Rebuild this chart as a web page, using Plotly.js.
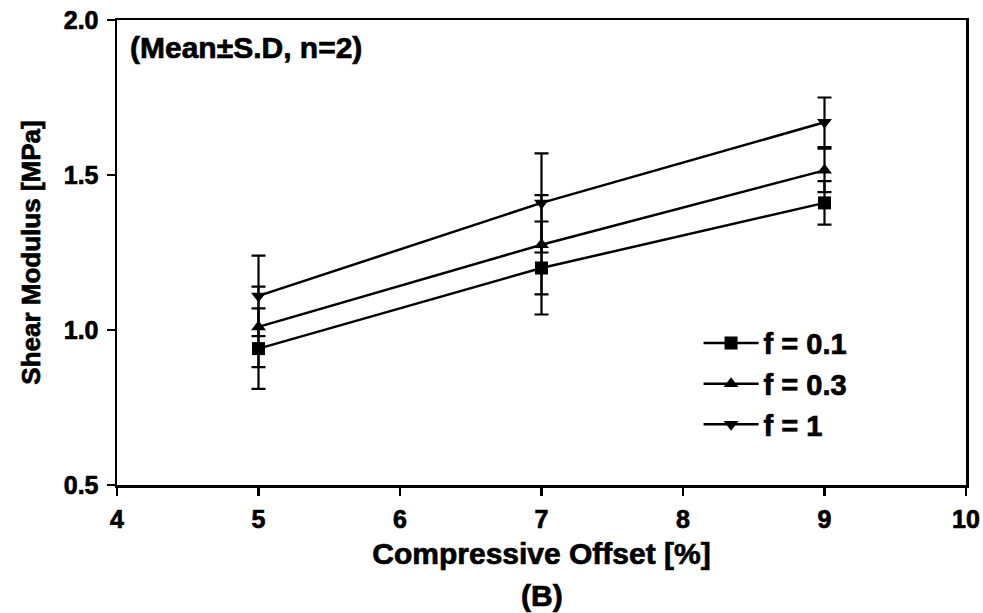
<!DOCTYPE html>
<html>
<head>
<meta charset="utf-8">
<script src="https://cdn.plot.ly/plotly-3.0.1.min.js"></script>
<style>
  html, body { margin: 0; padding: 0; background: #fff; }
  #chart { width: 983px; height: 613px; }
  /* heavier lettering for all chart text */
  #chart svg text { stroke: #000; stroke-width: 0.7px; }
  #chart .xtick text, #chart .ytick text { font-weight: bold !important; }
</style>
</head>
<body>
<div id="chart"></div>
<script>
// Compressive offset [%]
const offsets = [5, 7, 9];

// Shear modulus [MPa], mean and standard deviation per frequency
const modulusF01 = [0.94, 1.20, 1.41];
const sdF01      = [0.13, 0.15, 0.07];
const modulusF03 = [1.01, 1.275, 1.515];
const sdF03      = [0.13, 0.16, 0.07];
const modulusF1  = [1.11, 1.41, 1.67];
const sdF1       = [0.13, 0.16, 0.08];

const seriesNames = ['f = 0.1', 'f = 0.3', 'f = 1'];
const xTicks = [4, 5, 6, 7, 8, 9, 10];
const yTicks = [0.5, 1.0, 1.5, 2.0];

const FONT = 'Liberation Sans, Arial, sans-serif';

function series(name, y, sd, symbol) {
  return {
    type: 'scatter',
    mode: 'lines+markers',
    name: name,
    x: offsets,
    y: y,
    line: { color: '#000', width: 2.5 },
    marker: { symbol: symbol, size: 13, color: '#000', line: { width: 0 } },
    error_y: { type: 'data', array: sd, visible: true, color: '#000', thickness: 2.2, width: 7 }
  };
}

const data = [
  series(seriesNames[0], modulusF01, sdF01, 'square'),
  series(seriesNames[1], modulusF03, sdF03, 'triangle-up'),
  series(seriesNames[2], modulusF1, sdF1, 'triangle-down')
];

const axisCommon = {
  showgrid: false,
  zeroline: false,
  showline: true,
  linecolor: '#000',
  linewidth: 2.5,
  mirror: true,
  ticks: 'outside',
  tickcolor: '#000',
  tickwidth: 2.5,
  ticklen: 8,
  tickfont: { family: FONT, size: 25, weight: 'bold', color: '#000' }
};

const layout = {
  width: 983,
  height: 613,
  paper_bgcolor: '#fff',
  plot_bgcolor: '#fff',
  margin: { l: 117, r: 17, t: 20, b: 128 },
  showlegend: true,
  legend: {
    x: 0.685, y: 0.36, xanchor: 'left', yanchor: 'top',
    bgcolor: 'rgba(0,0,0,0)',
    font: { family: FONT, size: 29, weight: 'bold', color: '#000' },
    itemwidth: 55,
    tracegroupgap: 0
  },
  xaxis: Object.assign({}, axisCommon, {
    range: [4, 10],
    tickvals: xTicks,
    ticktext: xTicks.map(String),
    ticklabelstandoff: 2,
    title: {
      text: 'Compressive Offset [%]',
      font: { family: FONT, size: 30, weight: 'bold', color: '#000' },
      standoff: 12
    }
  }),
  yaxis: Object.assign({}, axisCommon, {
    range: [0.5, 2.0],
    tickvals: yTicks,
    ticktext: yTicks.map(v => v.toFixed(1)),
    ticklabelstandoff: 3,
    title: {
      text: 'Shear Modulus [MPa]',
      font: { family: FONT, size: 26, weight: 'bold', color: '#000' },
      standoff: 16
    }
  }),
  annotations: [
    {
      text: '(Mean\u00b1S.D, n=2)',
      xref: 'paper', yref: 'paper', x: 0.013, y: 0.98,
      xanchor: 'left', yanchor: 'top', showarrow: false,
      font: { family: FONT, size: 30, weight: 'bold', color: '#000' }
    },
    {
      text: '(B)',
      xref: 'paper', yref: 'paper', x: 0.5, y: 0, yshift: -110,
      xanchor: 'center', yanchor: 'middle', showarrow: false,
      font: { family: FONT, size: 30, weight: 'bold', color: '#000' }
    }
  ]
};

Plotly.newPlot('chart', data, layout, { displayModeBar: false, staticPlot: true });
</script>
</body>
</html>
